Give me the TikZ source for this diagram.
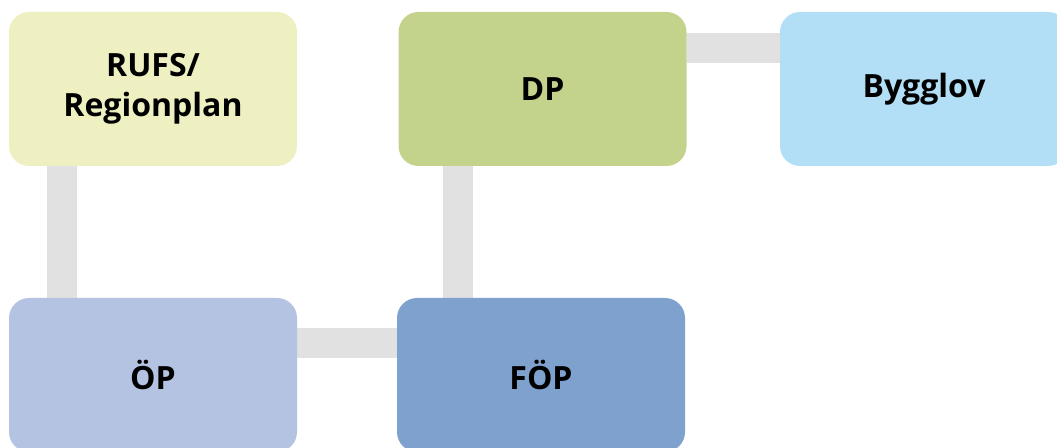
\documentclass[tikz,border=0pt]{standalone}
\usepackage{fontspec}
\setmainfont{Open Sans}
\usetikzlibrary{backgrounds}
\definecolor{rufsc}{HTML}{EEF0C2}
\definecolor{dpc}{HTML}{C4D38C}
\definecolor{byggc}{HTML}{B2DFF6}
\definecolor{opc}{HTML}{B4C3E2}
\definecolor{fopc}{HTML}{7FA1CD}
\definecolor{barc}{HTML}{E1E1E1}
\tikzset{
  planbox/.style={rectangle, rounded corners=20pt, minimum width=288pt, minimum height=154pt,
    inner sep=0pt, align=center, font=\fontsize{32}{40}\selectfont\bfseries, text=black},
  bar/.style={draw=barc, line width=30pt}
}
\begin{document}
\begin{tikzpicture}[x=1pt,y=1pt]
\useasboundingbox (0,0) rectangle (1057,447);
\clip (0,0) rectangle (1057,447);
\node[planbox, fill=rufsc] (rufs) at (153,358) {RUFS/\\Regionplan};
\node[planbox, fill=dpc] (dp) at (542.5,358) {DP};
\node[planbox, fill=byggc] (bygg) at (924,358) {Bygglov};
\node[planbox, fill=opc] (op) at (153,72) {ÖP};
\node[planbox, fill=fopc] (fop) at (541,72) {FÖP};
\begin{pgfonlayer}{background}
\draw[bar] ([xshift=-91pt]rufs.south) -- ([xshift=-91pt]op.north);
\draw[bar] ([xshift=-84.5pt]dp.south) -- ([xshift=-83pt]fop.north);
\draw[bar] ([yshift=31.5pt]op.east) -- ([yshift=31.5pt]fop.west);
\draw[bar] ([yshift=41pt]dp.east) -- ([yshift=41pt]bygg.west);
\end{pgfonlayer}
\end{tikzpicture}
\end{document}
